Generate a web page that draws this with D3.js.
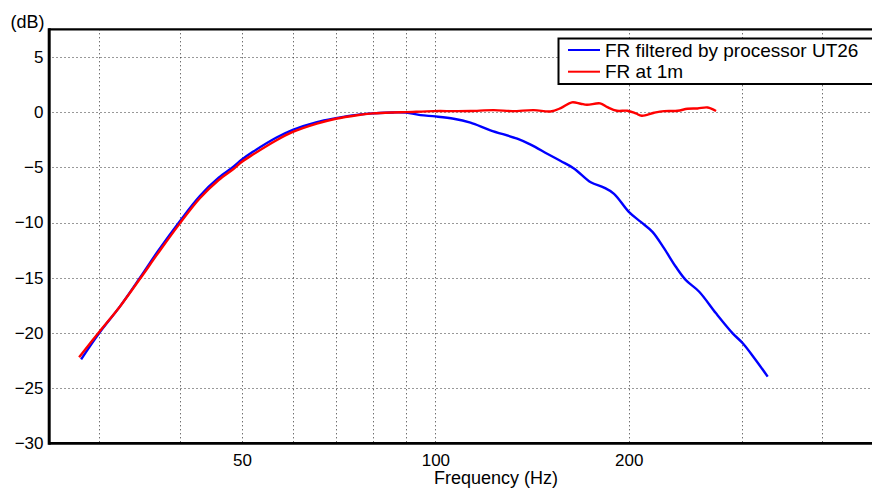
<!DOCTYPE html>
<html>
<head>
<meta charset="utf-8">
<script src="https://cdn.jsdelivr.net/npm/d3@7"></script>
<style>
  body { margin: 0; background: #fff; }
  svg { display: block; font-family: "Liberation Sans", Arial, sans-serif; }
  .grid line { stroke: #333; stroke-width: 1; stroke-dasharray: 1,3; }
</style>
</head>
<body>
<div id="chart"></div>
<script>
// chart data
var blueFreq = [28.1, 30, 32.3, 34.7, 37, 40, 43, 46, 48.5, 50, 52, 56.6, 60, 65.4, 70, 75.5, 80, 86, 90, 94.8, 100, 106.8, 113.4, 121.8, 134.1, 140.7, 149.3, 156.7, 164.3, 174.5, 183, 189.7, 200, 208.8, 217.7, 227, 236.7, 245.4, 257.4, 273.4, 290.2, 300.9, 313.7, 329];
var blueDb = [-22.4, -20.0, -17.6, -15.0, -12.6, -9.9, -7.6, -5.95, -4.95, -4.3, -3.6, -2.3, -1.6, -0.9, -0.55, -0.25, -0.12, -0.03, -0.05, -0.27, -0.39, -0.6, -0.96, -1.65, -2.41, -2.95, -3.77, -4.43, -5.1, -6.35, -6.84, -7.4, -9.04, -9.95, -10.85, -12.35, -14.01, -15.22, -16.27, -18.23, -20.04, -20.94, -22.3, -23.96];

var redFreq = [27.9, 30, 32.3, 34.7, 37, 40, 43, 46, 48.5, 50, 52, 56.6, 60, 65.4, 70, 75.5, 80, 86, 90, 99.4, 106.8, 113.4, 123.3, 131.8, 142.3, 151.1, 156.7, 163.1, 168.3, 172.1, 180.5, 185.2, 191.6, 199, 205.1, 209.5, 219, 227, 238.2, 246.9, 255.9, 265.3, 273.4];
var redDb = [-22.2, -19.9, -17.6, -15.1, -12.8, -10.1, -7.8, -6.15, -5.15, -4.5, -3.85, -2.55, -1.8, -1.05, -0.6, -0.28, -0.12, -0.03, 0.0, 0.09, 0.09, 0.1, 0.18, 0.09, 0.18, 0.06, 0.36, 0.88, 0.76, 0.66, 0.79, 0.45, 0.12, 0.12, -0.12, -0.33, -0.06, 0.09, 0.12, 0.3, 0.33, 0.42, 0.1];

var seriesNames = ["FR filtered by processor UT26", "FR at 1m"];
var seriesColors = ["#0000ff", "#ff0000"];

var gridFreqs = [30, 40, 50, 60, 70, 80, 90, 100, 200, 300, 400];
var xTickLabels = [50, 100, 200];
var yTicks = [5, 0, -5, -10, -15, -20, -25, -30];

/* ****** Size ****** */
var width = 872;
var height = 494;
var plot = { left: 48.5, right: 884.5, top: 29.3, bottom: 443.3 };

var svg = d3.select("#chart")
    .append("svg")
    .attr("width", width)
    .attr("height", height);

/* ****** Scales ****** */
var x = d3.scaleLog()
    .domain([25, 500])
    .range([plot.left, plot.right]);

var y = d3.scaleLinear()
    .domain([-30, 7.5])
    .range([plot.bottom, plot.top]);

/* ****** Grid ****** */
svg.append("g")
    .attr("class", "grid")
    .selectAll("line.v")
    .data(gridFreqs)
    .enter().append("line")
    .attr("x1", function(d) { return Math.round(x(d)) + 0.5; })
    .attr("x2", function(d) { return Math.round(x(d)) + 0.5; })
    .attr("y1", plot.top)
    .attr("y2", plot.bottom);

svg.append("g")
    .attr("class", "grid")
    .selectAll("line.h")
    .data(yTicks.filter(function(d) { return d > -30; }))
    .enter().append("line")
    .attr("x1", plot.left)
    .attr("x2", width)
    .attr("y1", function(d) { return Math.round(y(d)) + 0.5; })
    .attr("y2", function(d) { return Math.round(y(d)) + 0.5; });

/* ****** Axes ****** */
var yAxis = d3.axisLeft(y)
    .tickValues(yTicks)
    .tickSize(0)
    .tickPadding(6);

var gy = svg.append("g")
    .attr("transform", "translate(" + (plot.left + 1) + ",0)")
    .call(yAxis);
gy.select(".domain").remove();
gy.selectAll("text").attr("font-size", 17).attr("fill", "#000").attr("font-family", null);

var xAxis = d3.axisBottom(x)
    .tickValues(xTickLabels)
    .tickFormat(d3.format("d"))
    .tickSize(0)
    .tickPadding(11);

var gx = svg.append("g")
    .attr("transform", "translate(0," + plot.bottom + ")")
    .call(xAxis);
gx.select(".domain").remove();
gx.selectAll("text").attr("font-size", 17).attr("fill", "#000").attr("font-family", null);

// frame lines
svg.append("line")
    .attr("x1", plot.left + 0.7).attr("x2", plot.left + 0.7)
    .attr("y1", plot.top - 1).attr("y2", plot.bottom + 1.5)
    .attr("stroke", "#000").attr("stroke-width", 3);
svg.append("line")
    .attr("x1", plot.left).attr("x2", width)
    .attr("y1", plot.bottom).attr("y2", plot.bottom)
    .attr("stroke", "#000").attr("stroke-width", 2.8);
svg.append("line")
    .attr("x1", plot.left).attr("x2", width)
    .attr("y1", plot.top).attr("y2", plot.top)
    .attr("stroke", "#000").attr("stroke-width", 2.3);

// axis titles
svg.append("text")
    .attr("x", 44.5).attr("y", 28)
    .attr("text-anchor", "end")
    .attr("font-size", 18)
    .text("(dB)");

svg.append("text")
    .attr("x", 496).attr("y", 484)
    .attr("text-anchor", "middle")
    .attr("font-size", 18)
    .text("Frequency (Hz)");

/* ****** Lines ****** */
var line = d3.line()
    .x(function(d) { return x(d[0]); })
    .y(function(d) { return y(d[1]); })
    .curve(d3.curveCatmullRom.alpha(0.5));

var series = [d3.zip(blueFreq, blueDb), d3.zip(redFreq, redDb)];

svg.selectAll("path.fr")
    .data(series)
    .enter().append("path")
    .attr("class", "fr")
    .attr("d", line)
    .attr("fill", "none")
    .attr("stroke", function(d, i) { return seriesColors[i]; })
    .attr("stroke-width", 2.4);

/* ****** Legend ****** */
var legend = svg.append("g");
legend.append("rect")
    .attr("x", 558.5).attr("y", 38.5)
    .attr("width", 330).attr("height", 45.5)
    .attr("fill", "#fff")
    .attr("stroke", "#000")
    .attr("stroke-width", 2);

var items = legend.selectAll("g.item")
    .data(seriesNames)
    .enter().append("g")
    .attr("transform", function(d, i) { return "translate(0," + (50 + i * 21.7) + ")"; });

items.append("line")
    .attr("x1", 568).attr("x2", 600)
    .attr("y1", 0).attr("y2", 0)
    .attr("stroke", function(d, i) { return seriesColors[i]; })
    .attr("stroke-width", 2);

items.append("text")
    .attr("x", 605)
    .attr("y", 6.5)
    .attr("font-size", 19)
    .text(function(d) { return d; });
</script>
</body>
</html>
